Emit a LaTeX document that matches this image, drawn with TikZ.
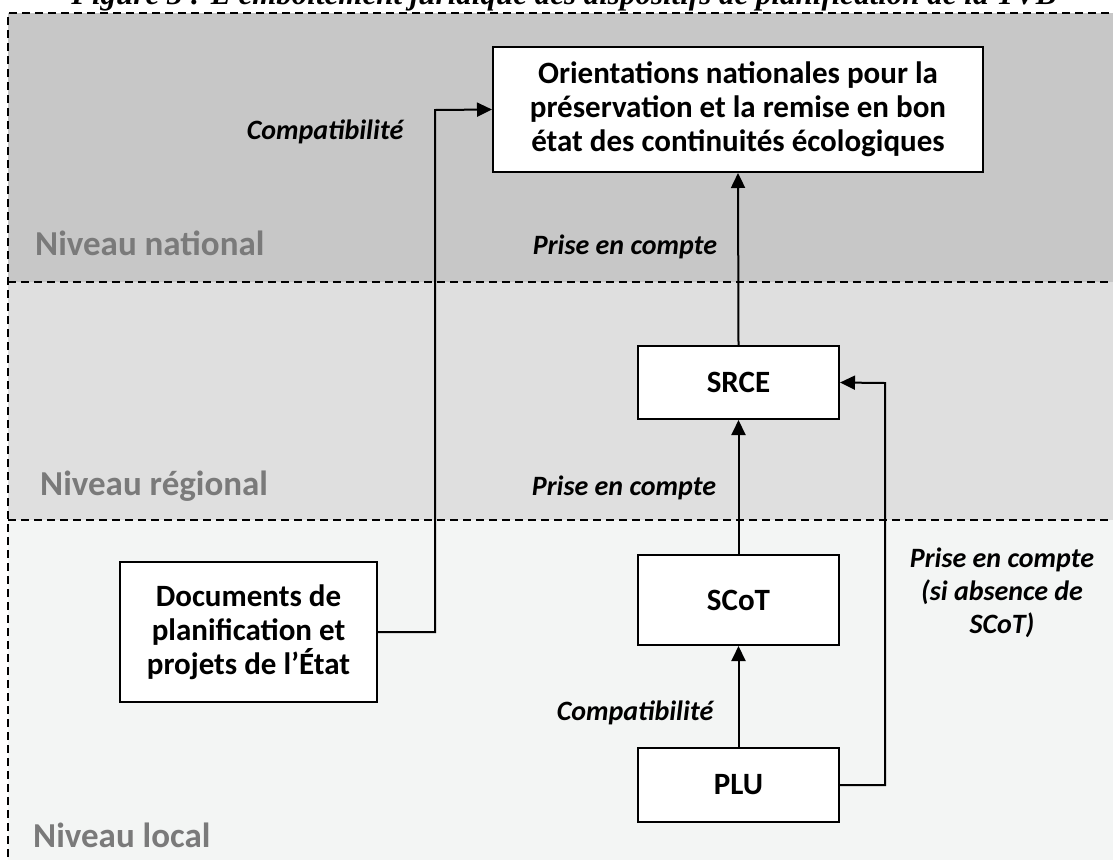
\documentclass[tikz,border=0pt]{standalone}
\usepackage{fontspec}
\setmainfont{Carlito}
\newfontfamily\captionfont{Liberation Serif}
\usetikzlibrary{arrows.meta}

\definecolor{bandnat}{HTML}{C7C7C7}
\definecolor{bandreg}{HTML}{DFDFDF}
\definecolor{bandloc}{HTML}{F3F5F4}
\definecolor{levelgray}{HTML}{7A7A7A}

\tikzset{
  docbox/.style={draw=black, line width=2pt, fill=white, align=center,
    inner sep=0pt, font=\bfseries\fontsize{31}{34}\selectfont},
  relation/.style={font=\bfseries\itshape\fontsize{28}{33}\selectfont, align=center, inner sep=0pt},
  level/.style={font=\bfseries\fontsize{35}{40}\selectfont, text=levelgray, anchor=west, inner sep=0pt},
  link/.style={draw=black, line width=2pt, -{Triangle[length=15pt,width=14pt]}},
  frame/.style={draw=black, line width=2pt, dash pattern=on 8pt off 5pt},
  divider/.style={draw=black, line width=1.6pt, dash pattern=on 8pt off 5pt}
}

\begin{document}
\begin{tikzpicture}[x=1pt,y=-1pt]
\useasboundingbox (0,0) rectangle (1113,860);
\clip (0,0) rectangle (1113,860);

% level bands
\fill[bandnat] (8,13) rectangle (1113,282);
\fill[bandreg] (8,282) rectangle (1113,520);
\fill[bandloc] (8,520) rectangle (1113,860);
\draw[divider] (8,282) -- (1113,282);
\draw[divider] (8,520) -- (1113,520);
\draw[frame] (8,870) -- (8,13) -- (1120,13);

% figure title, above the frame
\node[font=\captionfont\bfseries\itshape\fontsize{31}{34}\selectfont, anchor=base, inner sep=0pt]
  (title) at (564,4) {Figure 3 : L’emboîtement juridique des dispositifs de planification de la TVB};

% level names
\node[level] (lnat) at (35,243) {Niveau national};
\node[level] (lreg) at (40,486) {Niveau régional};
\node[level] (lloc) at (33,835) {Niveau local};

% planning documents
\node[docbox, minimum width=490pt, minimum height=125pt] (onat) at (738,109.5)
  {Orientations nationales pour la\\préservation et la remise en bon\\état des continuités écologiques};
\node[docbox, minimum width=201pt, minimum height=73pt] (srce) at (738.5,382.5) {SRCE};
\node[docbox, minimum width=201pt, minimum height=90pt] (scot) at (738.5,600) {SCoT};
\node[docbox, minimum width=201pt, minimum height=74pt] (plu) at (738.5,785) {PLU};
\node[docbox, minimum width=257pt, minimum height=140pt] (etat) at (248.5,632)
  {Documents de\\planification et\\projets de l’État};

% bend points
\coordinate (lbend) at (435,110);
\coordinate (rbend) at (885,383);

% relations
\draw[link] (srce.north) -- (onat.south);
\draw[link] (scot.north) -- (srce.south);
\draw[link] (plu.north) -- (scot.south);
\draw[link] (plu.east) -| (rbend) -- (srce.east);
\draw[link] (etat.east) -| (lbend) -- (onat.west);

% relation labels
\node[relation] (c1) at (325,132) {Compatibilité};
\node[relation] (p1) at (625,247) {Prise en compte};
\node[relation] (p2) at (624,488) {Prise en compte};
\node[relation] (p3) at (1002,593) {Prise en compte\\(si absence de\\SCoT)};
\node[relation] (c2) at (635,713) {Compatibilité};
\end{tikzpicture}
\end{document}
